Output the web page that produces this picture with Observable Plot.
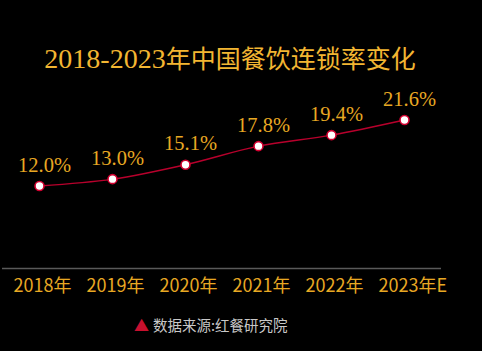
<!DOCTYPE html>
<html>
<head>
<meta charset="utf-8">
<script src="https://cdn.jsdelivr.net/npm/d3@7"></script>
<script src="https://cdn.jsdelivr.net/npm/@observablehq/plot@0.6"></script>
<style>
  html, body { margin: 0; padding: 0; background: #000; }
  #wrap { position: relative; width: 482px; height: 351px; background: #000; overflow: hidden; }
  #title { position: absolute; left: -11px; top: 38px; width: 482px; text-align: center; color: #f3b632; white-space: nowrap; line-height: 38px; }
  #title .num { font-family: "Liberation Serif", serif; font-size: 28px; }
  #title .cjk { font-family: "Noto Sans CJK SC", sans-serif; font-size: 25px; }
  #chart { position: absolute; left: 0; top: 80px; }
  #note { position: absolute; left: 134px; top: 313px; font-family: "Noto Sans CJK SC", sans-serif; font-size: 14.5px; color: #c8c8c8; white-space: nowrap; line-height: 24px; }
  #note .tri { color: #c8102e; font-size: 15px; margin-right: 4px; }
</style>
</head>
<body>
<div id="wrap">
  <div id="title"><span class="num">2018-2023</span><span class="cjk">年中国餐饮连锁率变化</span></div>
  <div id="chart"></div>
  <div id="note"><span class="tri">▲</span>数据来源:红餐研究院</div>
</div>
<script>
const years = ["2018年", "2019年", "2020年", "2021年", "2022年", "2023年E"];
const rates = [12.0, 13.0, 15.1, 17.8, 19.4, 21.6];
const rateLabels = ["12.0%", "13.0%", "15.1%", "17.8%", "19.4%", "21.6%"];

const data = years.map((y, i) => ({ year: y, rate: rates[i], label: rateLabels[i] }));

const gold = "#e8a823";
const red = "#b8002c";

const chart = Plot.plot({
  width: 482,
  height: 220,
  marginLeft: 2,
  marginRight: 41,
  marginTop: 23,
  marginBottom: 32,
  style: { background: "transparent", fontFamily: "Noto Sans CJK SC, sans-serif", overflow: "visible" },
  x: { type: "point", domain: years, padding: 0.49, label: null },
  y: { domain: [0, 24], axis: null },
  marks: [
    Plot.ruleY([0], { stroke: "#5a5a5a", strokeWidth: 1.5 }),
    Plot.line(data, { x: "year", y: "rate", stroke: red, strokeWidth: 1.5, curve: "catmull-rom" }),
    Plot.dot(data, { x: "year", y: "rate", r: 4.5, fill: "#fff", stroke: "#d0002f", strokeWidth: 1.6 }),
    Plot.text(data, { x: "year", y: "rate", text: "label", dy: -21, dx: 5, fill: gold, fontSize: 20.5, fontFamily: "Liberation Serif, serif" }),
    Plot.axisX({ tickSize: 0, tickPadding: 11, fontSize: 18, fill: gold, textAnchor: "start", dx: -26, label: null })
  ]
});
document.getElementById("chart").appendChild(chart);
</script>
</body>
</html>
